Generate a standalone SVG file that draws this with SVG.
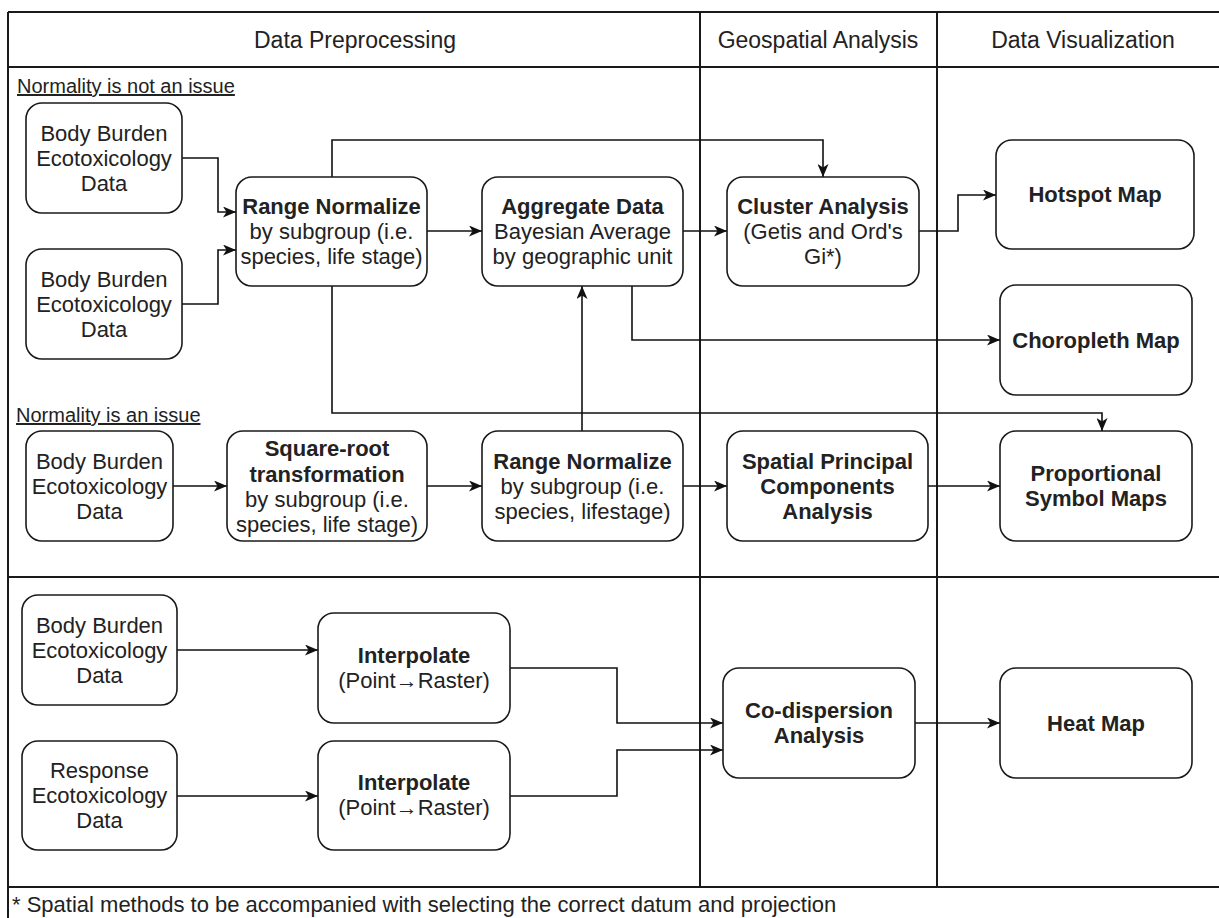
<svg xmlns="http://www.w3.org/2000/svg" width="1219" height="918" viewBox="0 0 1219 918">
<defs>
<style>
.frame{stroke:#1a1a1a;stroke-width:2;fill:none}
.box{fill:#fff;stroke:#1a1a1a;stroke-width:1.6}
.edge{fill:none;stroke:#111;stroke-width:1.6}
text{font-family:"Liberation Sans",Arial,sans-serif;fill:#222}
.t{font-size:22px;text-anchor:middle}
.b{font-weight:bold}
.h{font-size:23px;text-anchor:middle}
.lbl{font-size:20px;text-decoration:underline}
.foot{font-size:22px}
</style>
<marker id="arr" markerUnits="userSpaceOnUse" viewBox="0 0 13 11" refX="13" refY="5.5" markerWidth="13" markerHeight="11" orient="auto">
<path d="M0,0 L13,5.5 L0,11 L3.5,5.5 Z" fill="#111"/>
</marker>
</defs>
<rect width="1219" height="918" fill="#fff"/>
<g id="frame">
<line class="frame" x1="8" y1="12" x2="1219" y2="12"/>
<line class="frame" x1="8" y1="12" x2="8" y2="918"/>
<line class="frame" x1="8" y1="67" x2="1219" y2="67"/>
<line class="frame" x1="8" y1="577" x2="1219" y2="577"/>
<line class="frame" x1="8" y1="887" x2="1219" y2="887"/>
<line class="frame" x1="700" y1="12" x2="700" y2="887"/>
<line class="frame" x1="937" y1="12" x2="937" y2="887"/>
<text class="h" x="355" y="48">Data Preprocessing</text>
<text class="h" x="818" y="48">Geospatial Analysis</text>
<text class="h" x="1083" y="48">Data Visualization</text>
<text class="lbl" x="17" y="93">Normality is not an issue</text>
<text class="lbl" x="16" y="422">Normality is an issue</text>
<text class="foot" x="12" y="912">* Spatial methods to be accompanied with selecting the correct datum and projection</text>
</g>
<g id="connectors">
<polyline class="edge" points="182,158 218,158 218,212 236,212" marker-end="url(#arr)"/>
<polyline class="edge" points="182,304 218,304 218,250 236,250" marker-end="url(#arr)"/>
<polyline class="edge" points="332,177 332,140 823,140 823,177" marker-end="url(#arr)"/>
<polyline class="edge" points="427,231 482,231" marker-end="url(#arr)"/>
<polyline class="edge" points="683,231 727,231" marker-end="url(#arr)"/>
<polyline class="edge" points="919,231 958,231 958,195 996,195" marker-end="url(#arr)"/>
<polyline class="edge" points="632,286 632,340 1000,340" marker-end="url(#arr)"/>
<polyline class="edge" points="332,286 332,413 1102,413 1102,431" marker-end="url(#arr)"/>
<polyline class="edge" points="582,431 582,286" marker-end="url(#arr)"/>
<polyline class="edge" points="173,486 227,486" marker-end="url(#arr)"/>
<polyline class="edge" points="427,486 482,486" marker-end="url(#arr)"/>
<polyline class="edge" points="683,486 727,486" marker-end="url(#arr)"/>
<polyline class="edge" points="928,486 1000,486" marker-end="url(#arr)"/>
<polyline class="edge" points="177,650 318,650" marker-end="url(#arr)"/>
<polyline class="edge" points="177,796 318,796" marker-end="url(#arr)"/>
<polyline class="edge" points="510,668 617,668 617,723 723,723" marker-end="url(#arr)"/>
<polyline class="edge" points="510,796 617,796 617,750 723,750" marker-end="url(#arr)"/>
<polyline class="edge" points="915,723 1000,723" marker-end="url(#arr)"/>
</g>
<g id="bb1">
<rect class="box" x="26" y="103" width="156" height="110" rx="16"/>
<text class="t" x="104" y="141">Body Burden</text>
<text class="t" x="104" y="166">Ecotoxicology</text>
<text class="t" x="104" y="191">Data</text>
</g>
<g id="bb2">
<rect class="box" x="26" y="249" width="156" height="110" rx="16"/>
<text class="t" x="104" y="287">Body Burden</text>
<text class="t" x="104" y="312">Ecotoxicology</text>
<text class="t" x="104" y="337">Data</text>
</g>
<g id="range1">
<rect class="box" x="236" y="177" width="191" height="109" rx="16"/>
<text class="t b" x="331.5" y="214">Range Normalize</text>
<text class="t" x="331.5" y="239">by subgroup (i.e.</text>
<text class="t" x="331.5" y="264">species, life stage)</text>
</g>
<g id="aggregate">
<rect class="box" x="482" y="177" width="201" height="109" rx="16"/>
<text class="t b" x="582.5" y="214">Aggregate Data</text>
<text class="t" x="582.5" y="239">Bayesian Average</text>
<text class="t" x="582.5" y="264">by geographic unit</text>
</g>
<g id="cluster">
<rect class="box" x="727" y="177" width="192" height="109" rx="16"/>
<text class="t b" x="823" y="214">Cluster Analysis</text>
<text class="t" x="823" y="239">(Getis and Ord's</text>
<text class="t" x="823" y="264">Gi*)</text>
</g>
<g id="hotspot">
<rect class="box" x="996" y="140" width="198" height="109" rx="16"/>
<text class="t b" x="1095" y="202">Hotspot Map</text>
</g>
<g id="choropleth">
<rect class="box" x="1000" y="285" width="192" height="110" rx="16"/>
<text class="t b" x="1096" y="348">Choropleth Map</text>
</g>
<g id="bb3">
<rect class="box" x="26" y="431" width="147" height="110" rx="16"/>
<text class="t" x="99.5" y="469">Body Burden</text>
<text class="t" x="99.5" y="494">Ecotoxicology</text>
<text class="t" x="99.5" y="519">Data</text>
</g>
<g id="sqrt">
<rect class="box" x="227" y="431" width="200" height="110" rx="16"/>
<text class="t b" x="327" y="456">Square-root</text>
<text class="t b" x="327" y="482">transformation</text>
<text class="t" x="327" y="507">by subgroup (i.e.</text>
<text class="t" x="327" y="532">species, life stage)</text>
</g>
<g id="range2">
<rect class="box" x="482" y="431" width="201" height="110" rx="16"/>
<text class="t b" x="582.5" y="469">Range Normalize</text>
<text class="t" x="582.5" y="494">by subgroup (i.e.</text>
<text class="t" x="582.5" y="519">species, lifestage)</text>
</g>
<g id="spca">
<rect class="box" x="727" y="431" width="201" height="110" rx="16"/>
<text class="t b" x="827.5" y="469">Spatial Principal</text>
<text class="t b" x="827.5" y="494">Components</text>
<text class="t b" x="827.5" y="519">Analysis</text>
</g>
<g id="propsym">
<rect class="box" x="1000" y="431" width="192" height="110" rx="16"/>
<text class="t b" x="1096" y="481">Proportional</text>
<text class="t b" x="1096" y="506">Symbol Maps</text>
</g>
<g id="bb4">
<rect class="box" x="22" y="595" width="155" height="110" rx="16"/>
<text class="t" x="99.5" y="633">Body Burden</text>
<text class="t" x="99.5" y="658">Ecotoxicology</text>
<text class="t" x="99.5" y="683">Data</text>
</g>
<g id="response">
<rect class="box" x="22" y="741" width="155" height="109" rx="16"/>
<text class="t" x="99.5" y="778">Response</text>
<text class="t" x="99.5" y="803">Ecotoxicology</text>
<text class="t" x="99.5" y="828">Data</text>
</g>
<g id="interp1">
<rect class="box" x="318" y="613" width="192" height="110" rx="16"/>
<text class="t b" x="414" y="663">Interpolate</text>
<text class="t" x="414" y="688">(Point→Raster)</text>
</g>
<g id="interp2">
<rect class="box" x="318" y="741" width="192" height="109" rx="16"/>
<text class="t b" x="414" y="790">Interpolate</text>
<text class="t" x="414" y="815">(Point→Raster)</text>
</g>
<g id="codisp">
<rect class="box" x="723" y="668" width="192" height="110" rx="16"/>
<text class="t b" x="819" y="718">Co-dispersion</text>
<text class="t b" x="819" y="743">Analysis</text>
</g>
<g id="heatmap">
<rect class="box" x="1000" y="668" width="192" height="110" rx="16"/>
<text class="t b" x="1096" y="731">Heat Map</text>
</g>
</svg>
